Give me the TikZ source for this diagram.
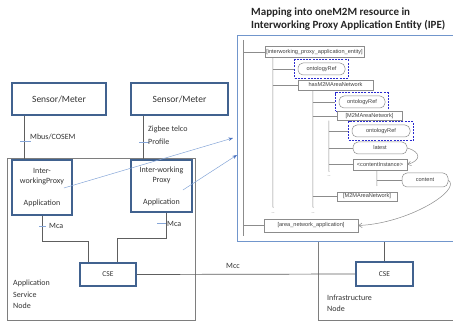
\documentclass[tikz,border=0pt]{standalone}
\usepackage{fontspec}
\setmainfont{Carlito}
\newfontfamily\treefont{Liberation Sans}
\usepackage{tikz}
\usetikzlibrary{calc,arrows.meta,positioning,fit}
\definecolor{boxc}{HTML}{41628F}
\definecolor{ipec}{HTML}{7196CC}
\definecolor{linec}{HTML}{5E5E5E}
\definecolor{treec}{HTML}{8C8C8C}
\definecolor{ontc}{HTML}{2A2ACF}
\definecolor{tickc}{HTML}{86A6D8}
\definecolor{tipc}{HTML}{4A72C0}
\definecolor{txtc}{HTML}{333333}
\tikzset{
  box/.style={draw=boxc,line width=1.8pt,align=center,inner sep=0pt,text=txtc,font=\fontsize{8}{10}\selectfont},
  cont/.style={draw=linec!80,line width=0.7pt},
  ln/.style={draw=linec,line width=0.7pt},
  tk/.style={draw=tickc,line width=0.8pt},
  lbl/.style={text=txtc,font=\fontsize{8}{11.5}\selectfont,align=left,inner sep=0pt},
  tbox/.style={draw=treec,line width=0.5pt,fill=white,inner sep=0pt,font=\treefont\fontsize{5.6}{6}\selectfont,text=black!75},
  rbox/.style={tbox,rounded corners=5pt},
  ofr/.style={draw=ontc,line width=0.9pt,dash pattern=on 2pt off 1.2pt,inner sep=3pt},
  tl/.style={draw=treec,line width=0.5pt},
  tdots/.style={font=\treefont\fontsize{6}{6}\selectfont,text=treec,inner sep=0pt},
  ar/.style={-{Stealth[length=1.6mm,width=1.2mm,color=tipc]},draw=tickc,line width=0.5pt},
  cur/.style={-{Straight Barb[length=1.2mm,width=1.6mm]},draw=treec,line width=0.5pt}
}
\begin{document}
\begin{tikzpicture}[x=1pt,y=-1pt]
\useasboundingbox (0,0) rectangle (453,323);
\clip (0,0) rectangle (453,323);
% application service node
\node[cont,minimum width=188pt,minimum height=162pt] (asn) at (101,239) {};
\node[box,minimum width=94pt,minimum height=32pt,font=\fontsize{9.5}{11}\selectfont] (sm1) at (59,99) {Sensor/Meter};
\node[box,minimum width=97pt,minimum height=32pt,font=\fontsize{9.5}{11}\selectfont] (sm2) at (179.5,99) {Sensor/Meter};
\node[box,minimum width=60pt,minimum height=55pt] (ipa1) at (42,187.5) {Inter-\\workingProxy\\[12pt]Application};
\node[box,minimum width=61pt,minimum height=52pt] (ipa2) at (161.5,186) {Inter-working\\Proxy\\[12pt]Application};
\node[box,minimum width=56pt,minimum height=23pt,font=\fontsize{7.5}{9}\selectfont] (cse1) at (108,274.5) {CSE};
\node[lbl,anchor=north west] (asnl) at (13,280) {Application\\Service\\Node};
\coordinate (m1) at ($(sm1.south west)+(13,0)$);
\coordinate (m2) at ($(sm2.south west)+(13,0)$);
\draw[ln] (m1) -- (m1 |- ipa1.north);
\draw[ln] (m2) -- (m2 |- ipa2.north);
\draw[tk] (20,141) -- (31,141); \draw[tk] (139,142) -- (149,142);
\node[lbl,anchor=west] (mbus) at (30,137) {Mbus/COSEM};
\node[lbl,anchor=north west,font=\fontsize{8}{13}\selectfont] (zig) at (148,126) {Zigbee telco\\Profile};
\draw[ln] (ipa1.south) -- ++(0,25.5) -| ($(cse1.north west)+(9,0)$);
\draw[ln] ($(ipa2.south)+(4.5,0)$) -- ++(0,25) -| ($(cse1.north west)+(38,0)$);
\draw[tk] (39,226) -- (46,226); \draw[tk] (157,223) -- (166,223);
\node[lbl,anchor=west] (mca1) at (49,226) {Mca};
\node[lbl,anchor=west] (mca2) at (167,224) {Mca};
% infrastructure node
\node[cont,anchor=north west,minimum width=150pt,minimum height=100pt] (inf) at (318,220) {};
\node[box,minimum width=57pt,minimum height=24pt,font=\fontsize{7.5}{9}\selectfont] (cse2) at (384.5,274) {CSE};
\node[lbl,anchor=north west,font=\fontsize{8}{10.5}\selectfont] (infl) at (327,295) {Infrastructure\\Node};
\draw[ln] (cse1.east) -- (cse2.west);
\node[lbl,anchor=west] (mccl) at (226,266) {Mcc};
% IPE resource tree
\node[draw=ipec,line width=1.4pt,fill=white,anchor=north west,minimum width=240pt,minimum height=206pt] (ipe) at (237,35) {};
\draw[ln] (cse2.north) -- (cse2.north |- ipe.south);
\node[anchor=north west,align=left,inner sep=0pt,text=black!85,font=\bfseries\fontsize{11}{12.5}\selectfont] (title) at (251,8) {Mapping into oneM2M resource in\\Interworking Proxy Application Entity (IPE)};
\node[tbox,minimum width=99pt,minimum height=11pt] (ipae) at (314.5,52) {[interworking\_proxy\_application\_entity]};
\node[rbox,minimum width=47pt,minimum height=12pt] (ont1) at (321.5,69) {ontologyRef};
\node[ofr,fit=(ont1)] (ont1f) {};
\node[tbox,minimum width=75pt,minimum height=10pt] (has) at (335.5,85) {hasM2MAreaNetwork};
\node[rbox,minimum width=46pt,minimum height=12pt] (ont2) at (362,102) {ontologyRef};
\node[ofr,fit=(ont2)] (ont2f) {};
\node[tbox,minimum width=65pt,minimum height=9pt] (man1) at (369.5,116) {[M2MAreaNetwork]};
\node[rbox,minimum width=58pt,minimum height=12pt] (ont3) at (381,131) {ontologyRef};
\node[ofr,fit=(ont3)] (ont3f) {};
\node[rbox,minimum width=54pt,minimum height=12pt] (lat) at (380,148) {latest};
\node[tbox,minimum width=54pt,minimum height=11pt] (ci) at (380,164.5) {<contentInstance>};
\node[rbox,minimum width=46pt,minimum height=14pt] (cnt) at (425,180) {content};
\node[tbox,minimum width=60pt,minimum height=9pt] (man2) at (367,196.5) {[M2MAreaNetwork]};
\node[tbox,minimum width=94pt,minimum height=13pt] (ana) at (311,225.5) {[area\_network\_application]};
\coordinate (t0) at (243,40); \coordinate (t0b) at (243,236);
\coordinate (t1) at ($(ipae.south west)+(8,0)$); \coordinate (t1b) at (273,208);
\coordinate (t2) at ($(has.south west)+(15,0)$); \coordinate (t2b) at (313,208);
\coordinate (t3) at ($(man1.south west)+(-8,0)$); \coordinate (t3b) at (329,172);
\coordinate (t4) at ($(ci.south west)+(24,0)$); \coordinate (t4b) at (377,186);
\draw[tl] (t0) -- (t0b); \draw[tl] (t0 |- ipae.west) -- (ipae.west); \draw[tl] (t0 |- ana.west) -- (ana.west);
\draw[tl] (t1) -- (t1b); \draw[tl] (t1 |- ont1f.west) -- (ont1f.west); \draw[tl] (t1 |- has.west) -- (has.west);
\draw[tl] (t2) -- (t2b); \draw[tl] (t2 |- ont2f.west) -- (ont2f.west); \draw[tl] (t2 |- man1.west) -- (man1.west); \draw[tl] (t2 |- man2.west) -- (man2.west);
\draw[tl] (t3) -- (t3b); \draw[tl] (t3 |- ont3f.west) -- (ont3f.west); \draw[tl] (t3 |- lat.west) -- (lat.west); \draw[tl] (t3 |- ci.west) -- (ci.west);
\draw[tl] (t4) -- (t4b); \draw[tl] (t4 |- cnt.west) -- (cnt.west);
\node[tdots] at (273,213) {..}; \node[tdots] at (313,213) {..}; \node[tdots] at (329,176) {..};
\draw[cur] (lat.east) .. controls +(14,4) and +(14,-4) .. (ci.east);
\draw[cur] (cnt.east) .. controls +(14,10) and +(50,-2) .. (ana.east);
\draw[ar] ($(ipa1.east)+(-9,0.5)$) -- ($(ipe.north west)+(-4,103)$);
\draw[ar] ($(ipa2.east)+(-10,4)$) -- ($(ipe.north west)+(0,120)$);
\end{tikzpicture}
\end{document}
